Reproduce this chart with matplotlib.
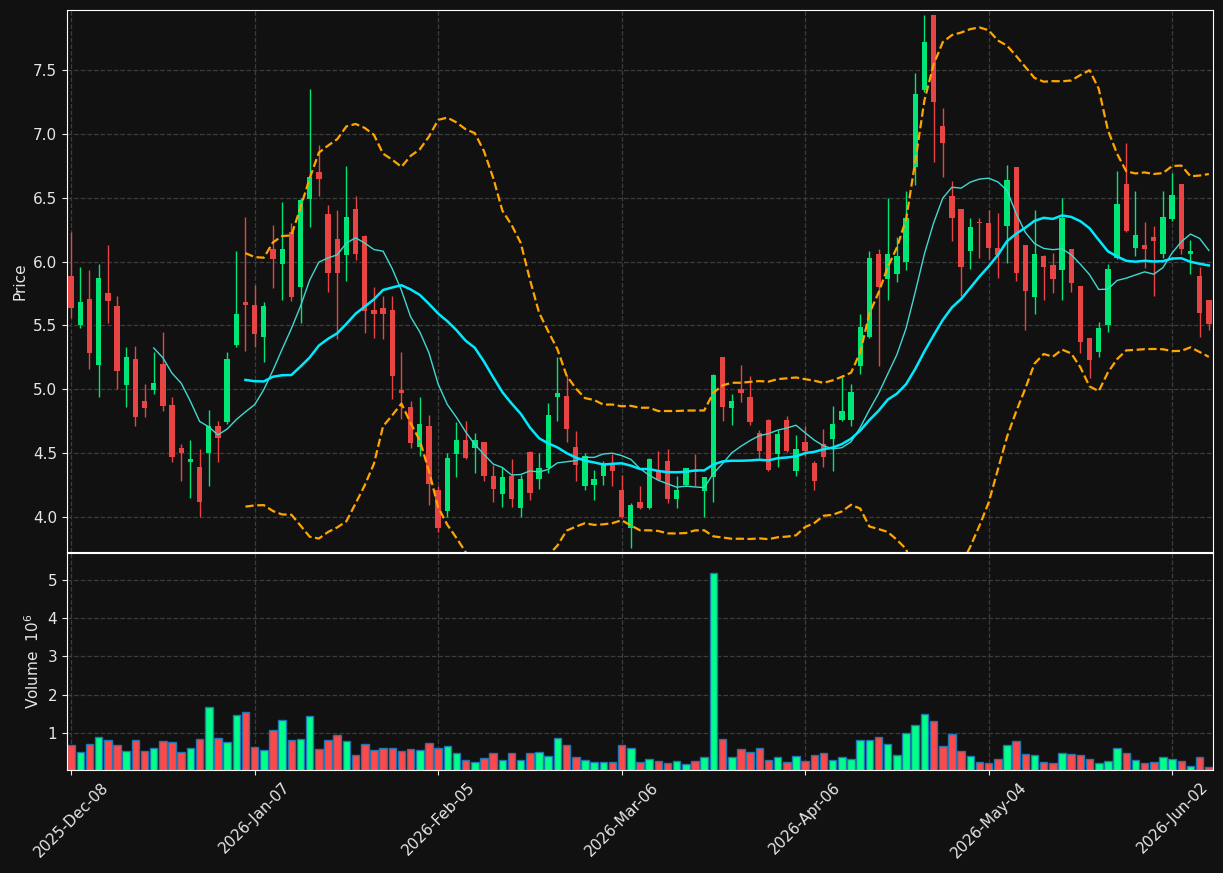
"""candlestick chart with moving averages, bollinger bands and volume, dark theme"""

import matplotlib
matplotlib.use('Agg')
import matplotlib.pyplot as plt
import numpy as np
import pandas as pd

# daily OHLC and volume in millions
opens = [5.89, 5.50, 5.71, 5.19, 5.75, 5.65, 5.03, 5.24, 4.91, 4.99,
         5.20, 4.88, 4.54, 4.43, 4.39, 4.50, 4.71, 4.74, 5.35, 5.68,
         5.66, 5.41, 6.10, 5.98, 6.23, 5.80, 6.49, 6.70, 6.37, 6.18,
         6.05, 6.41, 6.20, 5.62, 5.64, 5.62, 4.99, 4.86, 4.55, 4.71,
         4.21, 4.05, 4.49, 4.60, 4.54, 4.59, 4.32, 4.18, 4.32, 4.07,
         4.51, 4.30, 4.38, 4.94, 4.95, 4.55, 4.24, 4.25, 4.32, 4.41,
         4.21, 3.91, 4.12, 4.07, 4.37, 4.44, 4.14, 4.25, 4.36, 4.20,
         4.31, 5.25, 4.85, 5.00, 4.94, 4.66, 4.76, 4.49, 4.76, 4.36,
         4.59, 4.42, 4.57, 4.61, 4.76, 4.76, 5.18, 5.41, 6.06, 5.86,
         5.90, 6.00, 6.74, 7.34, 7.93, 7.06, 6.51, 6.41, 6.08, 6.31,
         6.30, 6.11, 6.28, 6.74, 6.13, 5.72, 6.04, 5.97, 5.93, 6.10,
         5.81, 5.40, 5.29, 5.50, 6.03, 6.61, 6.11, 6.13, 6.19, 6.06,
         6.33, 6.61, 6.06, 5.89, 5.70]
highs = [6.23, 5.96, 5.93, 5.98, 6.13, 5.73, 5.33, 5.34, 5.04, 5.29,
         5.45, 4.94, 4.57, 4.60, 4.53, 4.84, 4.75, 5.29, 6.08, 6.35,
         5.82, 5.68, 6.29, 6.47, 6.30, 6.50, 7.35, 6.91, 6.44, 6.40,
         6.75, 6.51, 6.21, 5.80, 5.73, 5.73, 5.29, 4.91, 4.94, 4.80,
         4.24, 4.50, 4.74, 4.75, 4.66, 4.59, 4.41, 4.39, 4.45, 4.33,
         4.52, 4.50, 4.89, 5.25, 5.11, 4.67, 4.50, 4.37, 4.44, 4.49,
         4.33, 4.11, 4.24, 4.46, 4.52, 4.53, 4.32, 4.38, 4.49, 4.31,
         5.12, 5.25, 4.96, 5.19, 5.10, 4.68, 4.77, 4.68, 4.79, 4.64,
         4.71, 4.44, 4.69, 4.87, 5.11, 5.04, 5.59, 6.08, 6.10, 6.50,
         6.19, 6.55, 7.48, 7.93, 7.93, 7.20, 6.63, 6.41, 6.34, 6.34,
         6.40, 6.38, 6.76, 6.74, 6.13, 6.40, 6.05, 6.07, 6.50, 6.10,
         5.81, 5.40, 5.53, 5.98, 6.71, 6.93, 6.55, 6.31, 6.28, 6.55,
         6.69, 6.61, 6.17, 5.96, 5.70]
lows = [5.56, 5.48, 5.16, 4.94, 5.52, 5.00, 4.86, 4.71, 4.78, 4.96,
        4.83, 4.43, 4.28, 4.15, 4.00, 4.24, 4.43, 4.73, 5.33, 5.30,
        5.33, 5.21, 5.79, 5.70, 5.69, 5.52, 6.27, 6.51, 5.76, 5.39,
        5.85, 6.01, 5.44, 5.40, 5.39, 4.92, 4.77, 4.54, 4.48, 4.09,
        3.88, 4.00, 4.31, 4.45, 4.34, 4.28, 4.12, 4.08, 4.08, 4.00,
        4.13, 4.22, 4.34, 4.75, 4.59, 4.28, 4.21, 4.13, 4.25, 4.24,
        3.99, 3.755, 4.06, 4.06, 4.29, 4.11, 4.07, 4.24, 4.24, 4.00,
        4.12, 4.75, 4.72, 4.90, 4.72, 4.46, 4.36, 4.39, 4.51, 4.32,
        4.48, 4.21, 4.39, 4.36, 4.75, 4.71, 5.12, 5.40, 5.18, 5.70,
        5.84, 5.93, 6.60, 7.33, 6.78, 6.66, 6.16, 5.73, 5.94, 6.03,
        6.02, 5.87, 5.99, 5.85, 5.46, 5.59, 5.70, 5.75, 5.70, 5.76,
        5.28, 5.09, 5.25, 5.45, 6.02, 6.23, 6.04, 5.95, 5.73, 6.03,
        6.32, 6.06, 5.90, 5.41, 5.46]
closes = [5.64, 5.68, 5.28, 5.87, 5.69, 5.14, 5.25, 4.78, 4.85, 5.05,
          4.87, 4.47, 4.50, 4.45, 4.12, 4.71, 4.62, 5.24, 5.59, 5.66,
          5.43, 5.65, 6.02, 6.10, 5.72, 6.48, 6.66, 6.65, 5.91, 5.91,
          6.35, 6.06, 5.61, 5.59, 5.59, 5.10, 4.97, 4.58, 4.73, 4.26,
          3.91, 4.46, 4.60, 4.46, 4.60, 4.32, 4.22, 4.31, 4.14, 4.30,
          4.19, 4.38, 4.80, 4.97, 4.69, 4.41, 4.48, 4.30, 4.41, 4.36,
          4.00, 4.09, 4.07, 4.455, 4.29, 4.14, 4.21, 4.38, 4.35, 4.31,
          5.11, 4.86, 4.91, 4.97, 4.74, 4.52, 4.37, 4.65, 4.52, 4.53,
          4.52, 4.28, 4.47, 4.73, 4.83, 4.98, 5.49, 6.03, 5.80, 6.06,
          6.04, 6.34, 7.31, 7.72, 7.25, 6.93, 6.34, 5.96, 6.27, 6.30,
          6.11, 6.05, 6.64, 5.91, 5.77, 6.06, 5.96, 5.86, 6.34, 5.83,
          5.37, 5.23, 5.48, 5.94, 6.45, 6.24, 6.21, 6.10, 6.16, 6.35,
          6.52, 6.10, 6.08, 5.60, 5.51]
volumes = [0.69, 0.50, 0.71, 0.90, 0.82, 0.69, 0.53, 0.82, 0.53, 0.60,
           0.79, 0.76, 0.50, 0.60, 0.84, 1.68, 0.87, 0.76, 1.47, 1.55,
           0.63, 0.55, 1.08, 1.34, 0.82, 0.84, 1.44, 0.58, 0.82, 0.95,
           0.79, 0.42, 0.71, 0.55, 0.61, 0.61, 0.53, 0.58, 0.55, 0.74,
           0.61, 0.66, 0.48, 0.29, 0.24, 0.35, 0.48, 0.29, 0.48, 0.29,
           0.48, 0.50, 0.40, 0.87, 0.69, 0.37, 0.29, 0.24, 0.24, 0.24,
           0.69, 0.61, 0.24, 0.32, 0.27, 0.22, 0.27, 0.19, 0.27, 0.37,
           5.18, 0.84, 0.37, 0.58, 0.50, 0.61, 0.29, 0.37, 0.24, 0.40,
           0.27, 0.42, 0.48, 0.29, 0.37, 0.32, 0.82, 0.82, 0.90, 0.71,
           0.42, 1.00, 1.21, 1.50, 1.31, 0.66, 0.98, 0.53, 0.40, 0.24,
           0.22, 0.32, 0.69, 0.79, 0.45, 0.42, 0.24, 0.22, 0.48, 0.45,
           0.42, 0.32, 0.22, 0.27, 0.61, 0.48, 0.29, 0.22, 0.24, 0.37,
           0.32, 0.27, 0.14, 0.37, 0.11]

tick_idx = [0, 20, 40, 60, 80, 100, 120]
tick_labels = ['2025-Dec-08', '2026-Jan-07', '2026-Feb-05', '2026-Mar-06',
               '2026-Apr-06', '2026-May-04', '2026-Jun-02']

bg = '#111111'
txt = '#e6e6e6'
up_c, down_c = '#00e676', '#e84444'
vup_c, vdown_c = '#00ff88', '#ff4848'

df = pd.DataFrame({'o': opens, 'h': highs, 'l': lows, 'c': closes, 'v': volumes})
x = np.arange(len(df))
ma10 = df['c'].rolling(10).mean()
ma20 = df['c'].rolling(20).mean()
sd20 = df['c'].rolling(20).std(ddof=0)
upper = ma20 + 2 * sd20
lower = ma20 - 2 * sd20

up = df['c'] >= df['o']
ccol = np.where(up, up_c, down_c)
vcol = np.where(up, vup_c, vdown_c)

fig = plt.figure(figsize=(12.23, 8.73), dpi=100, facecolor=bg)
ax = fig.add_axes([0.0548, 0.3677, 0.937, 0.6208], facecolor=bg)
axv = fig.add_axes([0.0548, 0.118, 0.937, 0.2486], facecolor=bg, sharex=ax)

# candles
ax.vlines(x, df['l'], df['h'], colors=ccol, linewidth=1, zorder=2)
body = (df['c'] - df['o']).abs().clip(lower=0.012)
ax.bar(x, body, bottom=np.minimum(df['o'], df['c']), width=0.58,
       color=ccol, linewidth=0, zorder=3)

ax.plot(x, ma10, color='#40d8d0', lw=1, zorder=4)
ax.plot(x, ma20, color='#00eaff', lw=1.8, zorder=4)
ax.plot(x, upper, color='#ffa500', lw=1.6, ls='--', zorder=4)
ax.plot(x, lower, color='#ffa500', lw=1.6, ls='--', zorder=4)

ax.set_ylim(3.725, 7.97)
ax.set_xlim(-0.45, len(df) - 0.55)
ax.set_ylabel('Price', color=txt, fontsize=11)

# volume
axv.bar(x, df['v'], width=0.82, color=vcol, edgecolor='#1f77b4', linewidth=1)
axv.set_ylim(0.3 * df['v'].min(), 1.1 * df['v'].max())
axv.set_yticks([1, 2, 3, 4, 5])
axv.set_ylabel('Volume  $10^6$', color=txt, fontsize=11)
axv.set_xticks(tick_idx)
axv.set_xticklabels(tick_labels, rotation=45)

for a in (ax, axv):
    a.grid(True, color='#3c3c3c', ls='--', lw=0.9)
    a.set_axisbelow(True)
    a.tick_params(colors=txt, labelsize=11)
    for s in a.spines.values():
        s.set_color('white')
plt.setp(ax.get_xticklabels(), visible=False)
ax.tick_params(axis='x', length=0)

fig.savefig('out.png', dpi=100, facecolor=bg)
